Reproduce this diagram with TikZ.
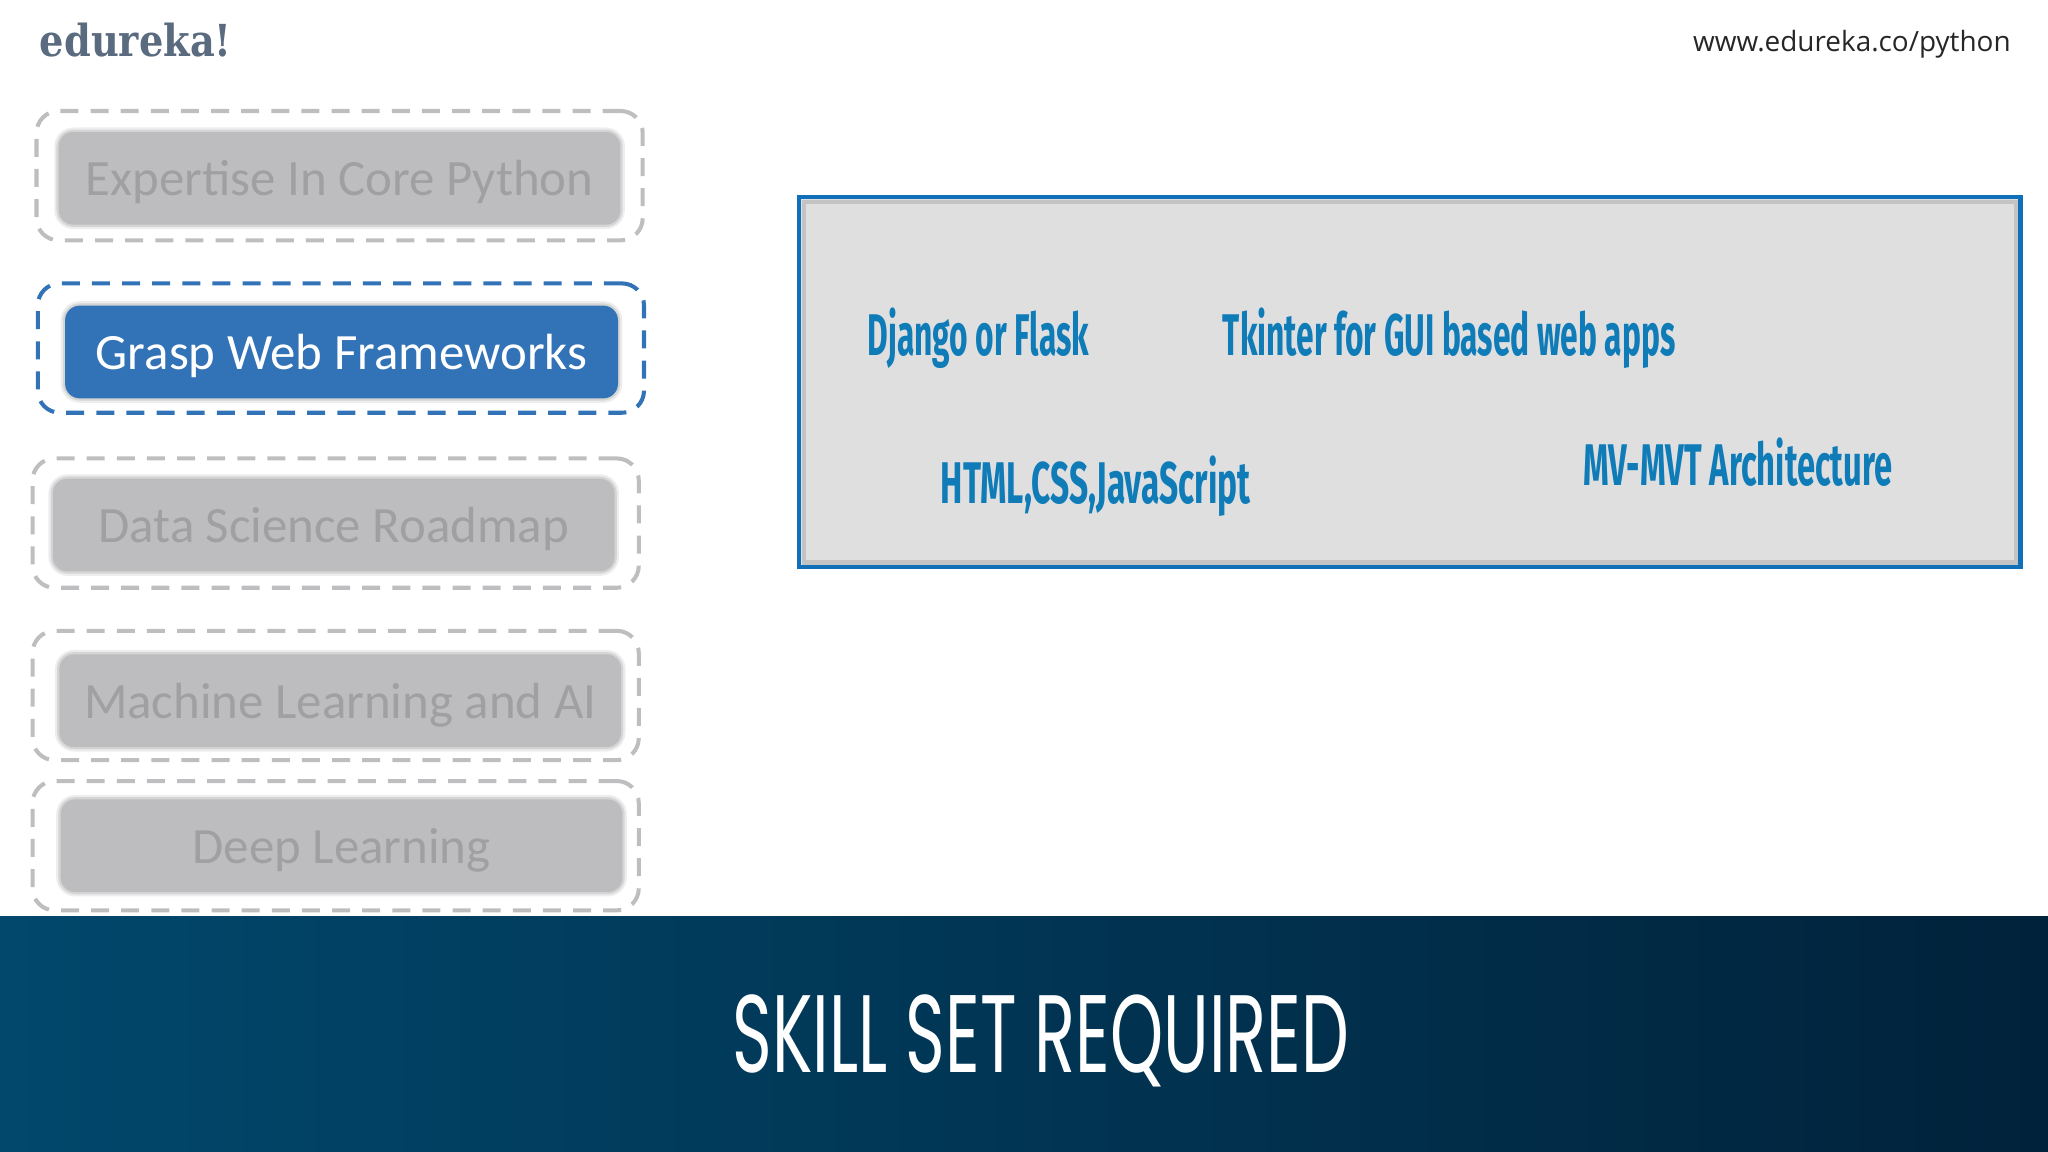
\documentclass[tikz,border=0pt]{standalone}
\usepackage{fontspec}
\setmainfont{Carlito}
\newfontfamily\logofont{DejaVu Serif}
\newfontfamily\urlfont{Open Sans}
\newfontfamily\labelfont{Fira Sans}
\newfontfamily\titlefont{Poppins}
\definecolor{eduBlue}{HTML}{3273B8}
\definecolor{eduGrey}{HTML}{BDBDBF}
\definecolor{eduDash}{HTML}{BEBEC0}
\definecolor{eduText}{HTML}{A0A0A3}
\definecolor{eduPanel}{HTML}{DFDFE0}
\definecolor{eduLine}{HTML}{0F6FB8}
\definecolor{eduLabel}{HTML}{0F7CB8}
\definecolor{eduLogo}{HTML}{5A6A7F}
\definecolor{eduLeft}{HTML}{01486C}
\definecolor{eduMid}{HTML}{003A5C}
\definecolor{eduRight}{HTML}{01223B}
\tikzset{
  outerbox/.style={draw=#1,line width=1.1pt,dash pattern=on 4.9pt off 3.3pt,rounded corners=6pt,minimum width=5.8cm,minimum height=1.2375cm,inner sep=0pt},
  innerbox/.style={fill=#1,rounded corners=4pt,minimum width=5.375cm,minimum height=.8875cm,inner sep=0pt,text height=10pt,text depth=.4pt,font=\fontsize{13.85}{17}\selectfont,preaction={draw=black,opacity=.07,line width=2.4pt},preaction={draw=black,opacity=.1,line width=1.2pt}},
  skilllabel/.style={text=eduLabel,inner sep=0pt,anchor=west,xscale=#1,font=\labelfont\bfseries\fontsize{16}{20}\selectfont},
}
\begin{document}
\begin{tikzpicture}[x=0.0125cm,y=-0.0125cm]
\useasboundingbox (0,0) rectangle (1568,882);
% header
\node [text=eduLogo,inner sep=0pt,anchor=west,xscale=.87,font=\logofont\bfseries\fontsize{12}{15}\selectfont, name=logo] at (30,31) {edureka!};
\node [text=black!85,inner sep=0pt,anchor=east,font=\urlfont\fontsize{7.6}{10}\selectfont, name=url] at (1540,34) {www.edureka.co/python};
% dashed frames
\node [outerbox=eduDash, name=o1] at (260,134.5) {};
\node [outerbox=eduBlue, name=o2] at (261,266.5) {};
\node [outerbox=eduDash, name=o3] at (257,400.5) {};
\node [outerbox=eduDash, name=o4] at (257,532.5) {};
\node [outerbox=eduDash, name=o5] at (257,647.5) {};
% steps
\node [innerbox=eduGrey, text=eduText, name=s1] at (260,136.5) {Expertise In Core Python};
\node [innerbox=eduBlue, text=white, minimum width=5.29cm, name=s2] at (261.5,269.5) {Grasp Web Frameworks};
\node [innerbox=eduGrey, text=eduText, name=s3] at (255.5,402) {Data Science Roadmap};
\node [innerbox=eduGrey, text=eduText, name=s4] at (260.5,536.5) {Machine Learning and AI};
\node [innerbox=eduGrey, text=eduText, name=s5] at (261.5,647.5) {Deep Learning};
% panel
\node [draw=eduLine,fill=eduPanel,line width=1.3pt,minimum width=11.69cm,minimum height=3.54cm,inner sep=0pt, name=panel] at (1079.5,292.5) {};
\node [draw=black,opacity=.12,line width=1.2pt,minimum width=11.6cm,minimum height=3.45cm,inner sep=0pt, name=panelshade] at (1079.5,292.5) {};
\node [skilllabel=.54, name=l1] at (664,259) {Django or Flask};
\node [skilllabel=.54, name=l2] at (936,259) {Tkinter for GUI based web apps};
\node [skilllabel=.57, name=l3] at (720,372) {HTML,CSS,JavaScript};
\node [skilllabel=.557, name=l4] at (1212,354) {MV-MVT Architecture};
% band
\node [left color=eduLeft,middle color=eduMid,right color=eduRight,minimum width=19.6cm,minimum height=2.25cm,inner sep=0pt, name=band] at (784,792) {};
\node [text=white,inner sep=0pt,xscale=.613,font=\titlefont\fontsize{30}{36}\selectfont, name=title] at (797,797) {SKILL SET REQUIRED};
\end{tikzpicture}
\end{document}
